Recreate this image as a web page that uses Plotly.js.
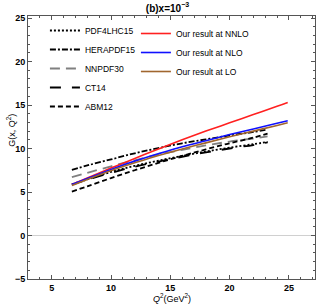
<!DOCTYPE html>
<html>
<head>
<meta charset="utf-8">
<script src="https://cdn.plot.ly/plotly-3.0.1.min.js"></script>
<style>html,body{margin:0;padding:0;background:#fff;}#chart{width:316px;height:306px;}</style>
</head>
<body>
<div id="chart"></div>
<script>
// Q^2 grids
const q2PDF = [6.7, 8, 10, 12, 14, 16, 18, 20, 22, 23.2];
const q2Ours = [6.7, 8, 10, 12, 14, 16, 18, 20, 22, 24, 24.9];

// PDF sets
const pdf4lhc15 = [5.9, 6.45, 7.3, 8.0, 8.6, 9.15, 9.65, 10.1, 10.5, 10.75];
const herapdf15 = [7.55, 8.05, 8.75, 9.45, 10.05, 10.6, 11.05, 11.5, 11.9, 12.2];
const nnpdf30 = [6.7, 7.2, 7.95, 8.65, 9.3, 9.85, 10.35, 10.8, 11.15, 11.4];
const ct14 = [5.85, 6.4, 7.2, 7.9, 8.5, 9.05, 9.55, 10.0, 10.4, 10.7];
const abm12 = [5.05, 5.65, 6.6, 7.5, 8.35, 9.15, 9.9, 10.6, 11.25, 11.7];

// Our results
const nnlo = [5.85, 6.6, 7.75, 8.85, 9.95, 11.0, 12.0, 12.95, 13.9, 14.85, 15.3];
const nlo = [5.85, 6.55, 7.6, 8.55, 9.4, 10.2, 10.9, 11.6, 12.25, 12.9, 13.2];
const lo = [5.75, 6.45, 7.45, 8.35, 9.2, 9.95, 10.65, 11.35, 12.0, 12.65, 12.95];

const xTicks = [5, 10, 15, 20, 25];
const yTicks = [-5, 0, 5, 10, 15, 20, 25];
const yTickText = ['\u22125', '0', '5', '10', '15', '20', '25'];

function tr(name, x, y, color, dash, legend, width) {
  return {
    type: 'scatter', mode: 'lines', name: name, x: x, y: y,
    line: {color: color, dash: dash, width: width || 1.8, shape: 'spline'},
    legend: legend, legendgroup: name
  };
}

const data = [
  tr('PDF4LHC15', q2PDF, pdf4lhc15, '#000', '2px,2px', 'legend'),
  tr('HERAPDF15', q2PDF, herapdf15, '#000', '6px,2px,2px,2px', 'legend'),
  tr('NNPDF30', q2PDF, nnpdf30, '#808080', '10px,6px', 'legend'),
  tr('CT14', q2PDF, ct14, '#000', '11px,11px', 'legend'),
  tr('ABM12', q2PDF, abm12, '#000', '5px,3px', 'legend'),
  tr('Our result at NNLO', q2Ours, nnlo, '#ff2020', 'solid', 'legend2', 1.6),
  tr('Our result at NLO', q2Ours, nlo, '#1010ff', 'solid', 'legend2', 1.6),
  tr('Our result at LO', q2Ours, lo, '#a0662e', 'solid', 'legend2', 1.6)
];

const font = {family: 'Liberation Sans, Arial, sans-serif', color: '#000'};
const axisCommon = {
  showgrid: false, zeroline: false, showline: true, linecolor: '#555', linewidth: 1,
  mirror: 'allticks', ticks: 'inside', ticklen: 4, tickcolor: '#555', tickwidth: 1,
  tickfont: {family: font.family, size: 9, color: '#000', weight: 'bold'}
};

const layout = {
  width: 316, height: 306,
  margin: {l: 28, r: 1, t: 16, b: 27},
  paper_bgcolor: '#fff', plot_bgcolor: '#fff',
  showlegend: true,
  title: {text: '<b>(b)x=10<sup>\u22123</sup></b>', font: {family: font.family, size: 10, color: '#000'}, x: 0.53, xanchor: 'center', y: 0.985, yanchor: 'top'},
  xaxis: Object.assign({}, axisCommon, {
    range: [3, 27.2], tickvals: xTicks, ticktext: xTicks.map(String),
    minor: {ticks: 'inside', ticklen: 2, dtick: 1, tickcolor: '#555', tick0: 0}
  }),
  yaxis: Object.assign({}, axisCommon, {
    range: [-5, 25.23], tickvals: yTicks, ticktext: yTickText,
    minor: {ticks: 'inside', ticklen: 2, dtick: 1, tickcolor: '#555', tick0: 0}
  }),
  shapes: [{type: 'line', xref: 'paper', x0: 0, x1: 1, yref: 'y', y0: 0, y1: 0, line: {color: '#d0d0d0', width: 1}, layer: 'below'}],
  legend: {
    x: 0.059, xanchor: 'left', y: 1.0, yanchor: 'top', bgcolor: 'rgba(0,0,0,0)',
    font: {family: font.family, size: 8.5, color: '#000'}, traceorder: 'normal', itemwidth: 30
  },
  legend2: {
    x: 0.376, xanchor: 'left', y: 0.9886, yanchor: 'top', bgcolor: 'rgba(0,0,0,0)',
    font: {family: font.family, size: 8.5, color: '#000'}, traceorder: 'normal', itemwidth: 30
  },
  annotations: [
    {text: 'G(x, Q<sup>2</sup>)', xref: 'paper', yref: 'paper', x: -0.06, y: 0.567, xanchor: 'center', yanchor: 'middle', textangle: -90, showarrow: false, font: {family: font.family, size: 9, color: '#000'}},
    {text: '<i>Q</i><sup>2</sup>(GeV<sup>2</sup>)', xref: 'paper', yref: 'paper', x: 0.5, y: -0.072, xanchor: 'center', yanchor: 'middle', showarrow: false, font: {family: font.family, size: 9, color: '#000'}}
  ]
};

Plotly.newPlot('chart', data, layout, {displayModeBar: false, staticPlot: true});
</script>
</body>
</html>
